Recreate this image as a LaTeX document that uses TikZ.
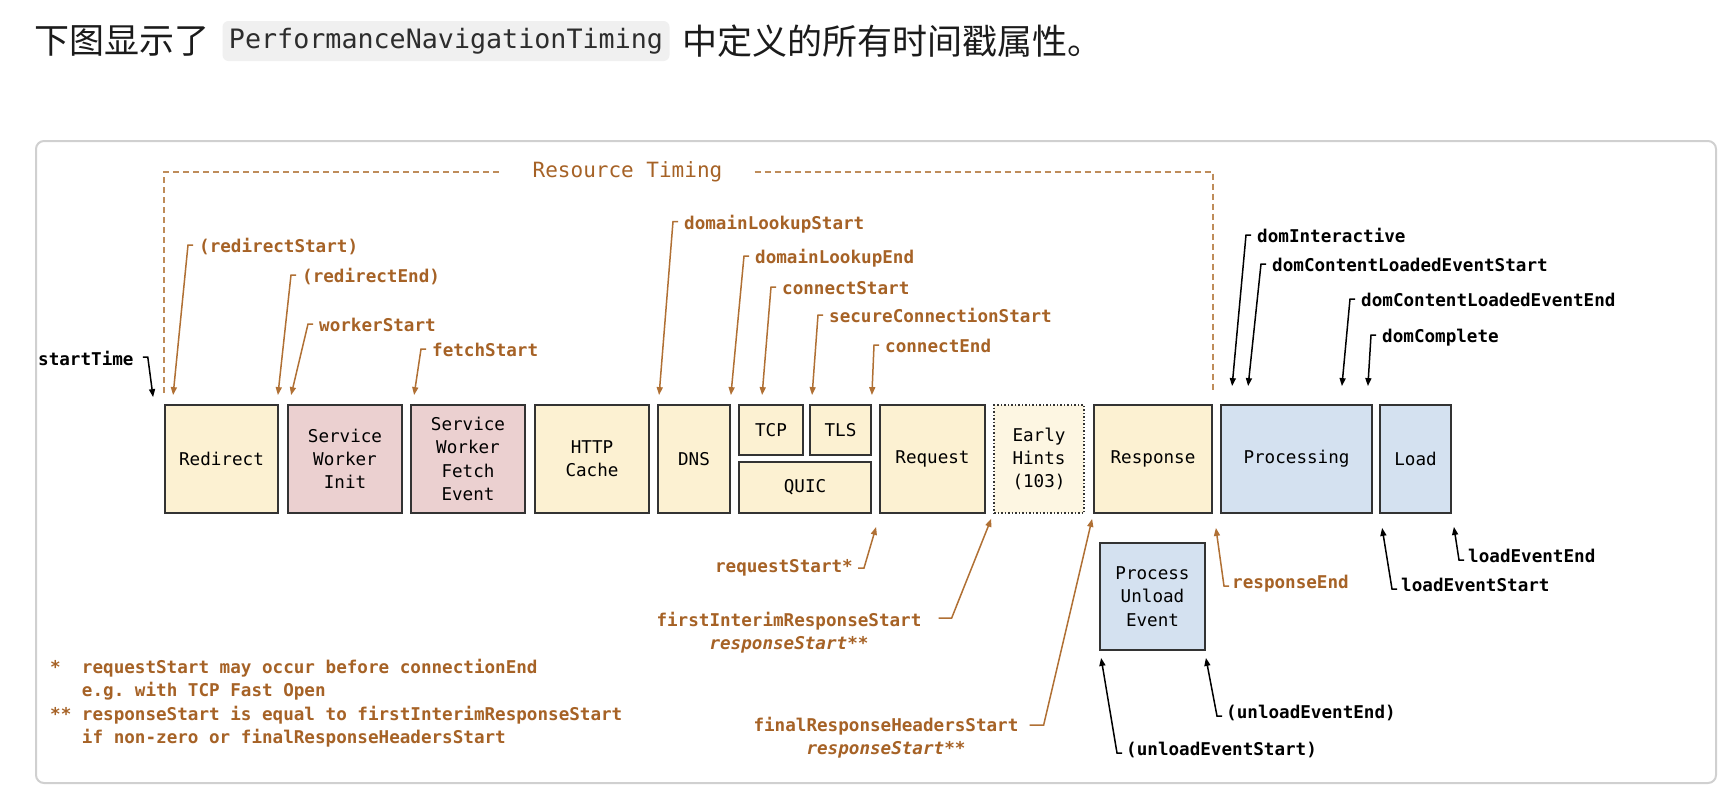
\documentclass[tikz,border=0pt]{standalone}
\usepackage{fontspec}
\setmonofont{DejaVu Sans Mono}
\newfontfamily\cjk{Noto Sans CJK SC}
\usetikzlibrary{arrows.meta}

\definecolor{tmbrown}{RGB}{166,98,38}
\definecolor{tmline}{RGB}{176,112,52}
\definecolor{tmdash}{RGB}{190,140,90}
\definecolor{tmyel}{RGB}{252,241,210}
\definecolor{tmhint}{RGB}{253,246,226}
\definecolor{tmpink}{RGB}{235,208,208}
\definecolor{tmblue}{RGB}{212,225,240}
\definecolor{tmedge}{RGB}{51,51,51}
\definecolor{tmframe}{RGB}{208,208,208}
\definecolor{codebg}{RGB}{240,240,240}

\newcommand\boxtxt{\fontsize{17.6}{23.3}\selectfont\ttfamily}
\newcommand\lbltxt{\fontsize{17.6}{23.3}\selectfont\ttfamily\bfseries}

\begin{document}
\begin{tikzpicture}[x=1pt, y=-1pt, >={Triangle[length=8pt,width=6pt]},
    stage/.style={draw=tmedge, line width=1.8pt, align=center, inner sep=0pt, font=\boxtxt, minimum height=108pt},
    ystage/.style={stage, fill=tmyel},
    pstage/.style={stage, fill=tmpink},
    bstage/.style={stage, fill=tmblue},
    lbl/.style={font=\lbltxt, text=tmbrown, inner sep=0pt, anchor=base west},
    blbl/.style={font=\lbltxt, text=black, inner sep=0pt, anchor=base west},
    tick/.style={draw=tmline, line width=1.5pt, ->},
    btick/.style={draw=black, line width=1.5pt, ->}]

    \useasboundingbox (0,0) rectangle (1729,807);
    \fill[white] (0,0) rectangle (1729,807);

    % Title
    % -----
    \node[anchor=west, inner sep=0pt, font=\cjk\fontsize{35}{40}\selectfont, text={rgb,255:red,27;green,27;blue,27}] (t1) at (34,41) {下图显示了};
    \node[fill=codebg, rounded corners=6pt, minimum width=447pt, minimum height=40pt, inner sep=0pt,
          font=\fontsize{26.7}{30}\selectfont\ttfamily, text={rgb,255:red,45;green,45;blue,45}] (code) at (446,41) {PerformanceNavigationTiming};
    \node[anchor=west, inner sep=0pt, font=\cjk\fontsize{35}{40}\selectfont, text={rgb,255:red,27;green,27;blue,27}] (t2) at (682,41) {中定义的所有时间戳属性。};

    \draw[tmframe, line width=2pt, rounded corners=8pt] (36,141) rectangle (1716,783);

    % Boxes
    % -----
    \node[ystage, minimum width=113pt] (redir) at (221.5,459) {Redirect};
    \node[pstage, minimum width=114pt] (swi)   at (345,459)   {Service\\Worker\\Init};
    \node[pstage, minimum width=114pt] (swf)   at (468,459)   {Service\\Worker\\Fetch\\Event};
    \node[ystage, minimum width=114pt] (cache) at (592,459)   {HTTP\\Cache};
    \node[ystage, minimum width=72pt]  (dns)   at (694,459)   {DNS};
    \node[ystage, minimum width=64pt, minimum height=50pt]  (tcp)  at (771,430)    {TCP};
    \node[ystage, minimum width=61pt, minimum height=50pt]  (tls)  at (840.5,430)  {TLS};
    \node[ystage, minimum width=132pt, minimum height=51pt] (quic) at (805,487.5)  {QUIC};
    \node[ystage, minimum width=105pt] (req)   at (932.5,459) {Request};
    \node[ystage, fill=tmhint, line width=1.5pt, dotted, minimum width=90pt] (hints) at (1039,459) {Early\\Hints\\(103)};
    \node[ystage, minimum width=118pt] (resp)  at (1153,459)  {Response};
    \node[bstage, minimum width=151pt] (proc)  at (1296.5,459) {Processing};
    \node[bstage, minimum width=71pt]  (load)  at (1415.5,459) {Load};
    \node[bstage, minimum width=105pt, minimum height=107pt] (unload) at (1152.5,596.5) {Process\\Unload\\Event};

    % Resource Timing
    % ---------------
    \node[font=\fontsize{21}{25}\selectfont\ttfamily, text=tmbrown, inner xsep=32pt, inner ysep=0pt] (rt) at (627.5,172) {Resource Timing};
    \draw[tmdash, line width=1.5pt, dash pattern=on 6pt off 4pt] ([yshift=11pt]redir.north west) |- (rt.west);
    \draw[tmdash, line width=1.5pt, dash pattern=on 6pt off 4pt] (rt.east) -| ([yshift=11pt]resp.north east);

    % Labels above
    % ------------
    \node[blbl] (st)   at (38,365.5)   {startTime};
    \node[lbl]  (rs)   at (199,252.5)  {(redirectStart)};
    \node[lbl]  (re)   at (302,282.5)  {(redirectEnd)};
    \node[lbl]  (ws)   at (319,331.5)  {workerStart};
    \node[lbl]  (fs)   at (432,356.5)  {fetchStart};
    \node[lbl]  (dls)  at (684,229)    {domainLookupStart};
    \node[lbl]  (dle)  at (755,263.5)  {domainLookupEnd};
    \node[lbl]  (cs)   at (782,294.5)  {connectStart};
    \node[lbl]  (scs)  at (829,322.5)  {secureConnectionStart};
    \node[lbl]  (ce)   at (885,352.5)  {connectEnd};
    \node[blbl] (di)   at (1257,242.5) {domInteractive};
    \node[blbl] (dcls) at (1272,271.5) {domContentLoadedEventStart};
    \node[blbl] (dcle) at (1361,306.5) {domContentLoadedEventEnd};
    \node[blbl] (dc)   at (1382,342.5) {domComplete};

    \draw[btick] ([xshift=9pt,yshift=8.5pt]st.base east) -- ++(5,0) -- ([xshift=-11pt,yshift=7pt]redir.north west);
    \draw[tick] ([xshift=-6pt,yshift=7.5pt]rs.base west)  -- ++(-5,0) -- ([xshift=9pt,yshift=9pt]redir.north west);
    \draw[tick] ([xshift=-6pt,yshift=7.5pt]re.base west)  -- ++(-5,0) -- ([xshift=-1pt,yshift=9pt]redir.north east);
    \draw[tick] ([xshift=-6pt,yshift=7.5pt]ws.base west)  -- ++(-5,0) -- ([xshift=4pt,yshift=9pt]swi.north west);
    \draw[tick] ([xshift=-6pt,yshift=7.5pt]fs.base west)  -- ++(-5,0) -- ([xshift=4pt,yshift=9pt]swf.north west);
    \draw[tick] ([xshift=-6pt,yshift=7.5pt]dls.base west) -- ++(-5,0) -- ([xshift=2pt,yshift=9pt]dns.north west);
    \draw[tick] ([xshift=-6pt,yshift=7.5pt]dle.base west) -- ++(-5,0) -- ([yshift=9pt]dns.north east);
    \draw[tick] ([xshift=-6pt,yshift=7.5pt]cs.base west)  -- ++(-5,0) -- ([xshift=24pt,yshift=9pt]tcp.north west);
    \draw[tick] ([xshift=-6pt,yshift=7.5pt]scs.base west) -- ++(-5,0) -- ([xshift=3pt,yshift=9pt]tls.north west);
    \draw[tick] ([xshift=-6pt,yshift=7.5pt]ce.base west)  -- ++(-5,0) -- ([yshift=9pt]tls.north east);
    \draw[btick] ([xshift=-6pt,yshift=7.5pt]di.base west)   -- ++(-5,0) -- ([xshift=12pt,yshift=18pt]proc.north west);
    \draw[btick] ([xshift=-6pt,yshift=7.5pt]dcls.base west) -- ++(-5,0) -- ([xshift=28pt,yshift=18pt]proc.north west);
    \draw[btick] ([xshift=-6pt,yshift=7.5pt]dcle.base west) -- ++(-5,0) -- ([xshift=-31pt,yshift=18pt]proc.north east);
    \draw[btick] ([xshift=-6pt,yshift=7.5pt]dc.base west)   -- ++(-5,0) -- ([xshift=-5pt,yshift=18pt]proc.north east);

    % Labels below
    % ------------
    \node[lbl, anchor=base east] (rqs) at (853,572.5) {requestStart*};
    \node[lbl, anchor=north, align=center] (fir) at (789,612) {firstInterimResponseStart\\\textit{responseStart**}};
    \node[lbl, anchor=north, align=center] (frh) at (886,717) {finalResponseHeadersStart\\\textit{responseStart**}};
    \node[lbl]  (rse) at (1232,588.5) {responseEnd};
    \node[blbl] (les) at (1401,591.5) {loadEventStart};
    \node[blbl] (lee) at (1468,562.5) {loadEventEnd};
    \node[blbl] (ues) at (1126,755.5) {(unloadEventStart)};
    \node[blbl] (uee) at (1226,718.5) {(unloadEventEnd)};

    \draw[tick] ([xshift=5pt,yshift=4.5pt]rqs.base east) -- ++(6,0) -- ([xshift=-3pt,yshift=-13pt]req.south west);
    \draw[tick] ([xshift=17pt,yshift=-6pt]fir.north east) -- ++(13,0) -- ([xshift=-2pt,yshift=-5pt]hints.south west);
    \draw[tick] ([xshift=11pt,yshift=-8pt]frh.north east) -- ++(14,0) -- ([xshift=-1pt,yshift=-5pt]resp.south west);
    \draw[tick] ([xshift=-3pt,yshift=2.5pt]rse.base west) -- ++(-5,0) -- ([xshift=3pt,yshift=-14pt]resp.south east);
    \draw[btick] ([xshift=-4pt,yshift=2.5pt]les.base west) -- ++(-5,0) -- ([xshift=3pt,yshift=-14pt]load.south west);
    \draw[btick] ([xshift=-4pt,yshift=2.5pt]lee.base west) -- ++(-5,0) -- ([xshift=2pt,yshift=-13pt]load.south east);
    \draw[btick] ([xshift=-4pt,yshift=2.5pt]ues.base west) -- ++(-5,0) -- ([xshift=2pt,yshift=-7pt]unload.south west);
    \draw[btick] ([xshift=-4pt,yshift=2.5pt]uee.base west) -- ++(-5,0) -- ([yshift=-7pt]unload.south east);

    % Notes
    % -----
    \node[lbl, anchor=north west, align=left] (note) at (50,659)
        {*\phantom{**}requestStart may occur before connectionEnd\\
         \phantom{***}e.g. with TCP Fast Open\\
         **\phantom{*}responseStart is equal to firstInterimResponseStart\\
         \phantom{***}if non-zero or finalResponseHeadersStart};

\end{tikzpicture}
\end{document}
